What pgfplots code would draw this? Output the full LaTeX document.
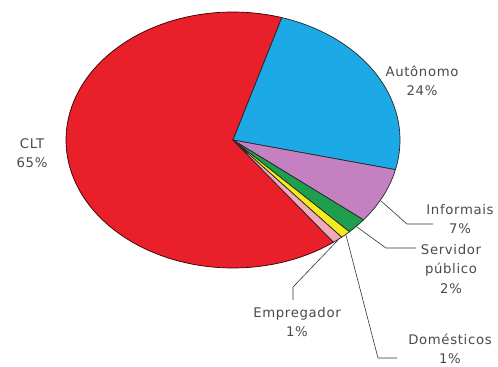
\documentclass[border=0pt]{standalone}
\usepackage{pgfplots}
\pgfplotsset{compat=1.18}
\usepackage{fontspec}
\setmainfont{DejaVu Sans}[LetterSpace=5]
\definecolor{cRed}{HTML}{E9202A}
\definecolor{cBlue}{HTML}{1DA8E6}
\definecolor{cViolet}{HTML}{C580C2}
\definecolor{cGreen}{HTML}{1F9E4E}
\definecolor{cYellow}{HTML}{F5EC1E}
\definecolor{cPink}{HTML}{F2AABA}
\definecolor{cText}{HTML}{4A4A4A}
\tikzset{lbl/.style={font=\fontsize{13.3}{19.5}\selectfont, text=cText, align=center, inner sep=0pt}}
\def\cx{233}\def\cy{227}\def\rx{167}\def\ry{128}
% values in percent, clockwise from start angle
\def\startang{73}
\def\vAut{24}\def\vInf{7}\def\vSer{2}\def\vDom{1}\def\vEmp{1}\def\vCLT{65}
\begin{document}
\begin{tikzpicture}
\begin{axis}[
  width=498bp, height=367bp, scale only axis,
  xmin=0, xmax=498, ymin=0, ymax=367,
  hide axis, clip=false,
  every axis plot/.append style={line join=round},
]
\pgfmathsetmacro\aA{\startang}
\pgfmathsetmacro\aB{\aA-3.6*\vAut}
\pgfmathsetmacro\aC{\aB-3.6*\vInf}
\pgfmathsetmacro\aD{\aC-3.6*\vSer}
\pgfmathsetmacro\aE{\aD-3.6*\vDom}
\pgfmathsetmacro\aF{\aE-3.6*\vEmp}
\pgfmathsetmacro\aG{\aF-3.6*\vCLT}
% CLT
\addplot[fill=cRed, draw=black!70!red!60!black, line width=0.7pt, domain=\aG:\aF, samples=150, variable=\t]
  ({\cx+\rx*cos(\t)},{\cy+\ry*sin(\t)}) -- (axis cs:\cx,\cy) -- cycle;
% Autonomo
\addplot[fill=cBlue, draw=black!85, line width=0.7pt, domain=\aB:\aA, samples=60, variable=\t]
  ({\cx+\rx*cos(\t)},{\cy+\ry*sin(\t)}) -- (axis cs:\cx,\cy) -- cycle;
% Informais
\addplot[fill=cViolet, draw=black!85, line width=0.7pt, domain=\aC:\aB, samples=30, variable=\t]
  ({\cx+\rx*cos(\t)},{\cy+\ry*sin(\t)}) -- (axis cs:\cx,\cy) -- cycle;
% Servidor publico
\addplot[fill=cGreen, draw=black!85, line width=0.7pt, domain=\aD:\aC, samples=10, variable=\t]
  ({\cx+\rx*cos(\t)},{\cy+\ry*sin(\t)}) -- (axis cs:\cx,\cy) -- cycle;
% Domesticos
\addplot[fill=cYellow, draw=black!85, line width=0.7pt, domain=\aE:\aD, samples=6, variable=\t]
  ({\cx+\rx*cos(\t)},{\cy+\ry*sin(\t)}) -- (axis cs:\cx,\cy) -- cycle;
% Empregador
\addplot[fill=cPink, draw=black!85, line width=0.7pt, domain=\aF:\aE, samples=6, variable=\t]
  ({\cx+\rx*cos(\t)},{\cy+\ry*sin(\t)}) -- (axis cs:\cx,\cy) -- cycle;
% leader lines
\addplot[black!80, line width=0.6pt] coordinates {(381,166) (407,143) (433,143)};
\addplot[black!80, line width=0.6pt] coordinates {(357,140) (386,119) (416,119)};
\addplot[black!80, line width=0.6pt] coordinates {(339,128) (293,80) (293,67)};
\addplot[black!80, line width=0.6pt] coordinates {(346,132) (378,9) (397,9)};
% labels
\node[lbl] at (axis cs:422,286) {Autônomo\\24\%};
\node[lbl] at (axis cs:32,214) {CLT\\65\%};
\node[lbl] at (axis cs:460,148) {Informais\\7\%};
\node[lbl] at (axis cs:451,98) {Servidor\\público\\2\%};
\node[lbl] at (axis cs:297,45) {Empregador\\1\%};
\node[lbl] at (axis cs:450,18) {Domésticos\\1\%};
\end{axis}
\pgfresetboundingbox
\path[use as bounding box] (current axis.south west) rectangle (current axis.north east);
\end{tikzpicture}
\end{document}
